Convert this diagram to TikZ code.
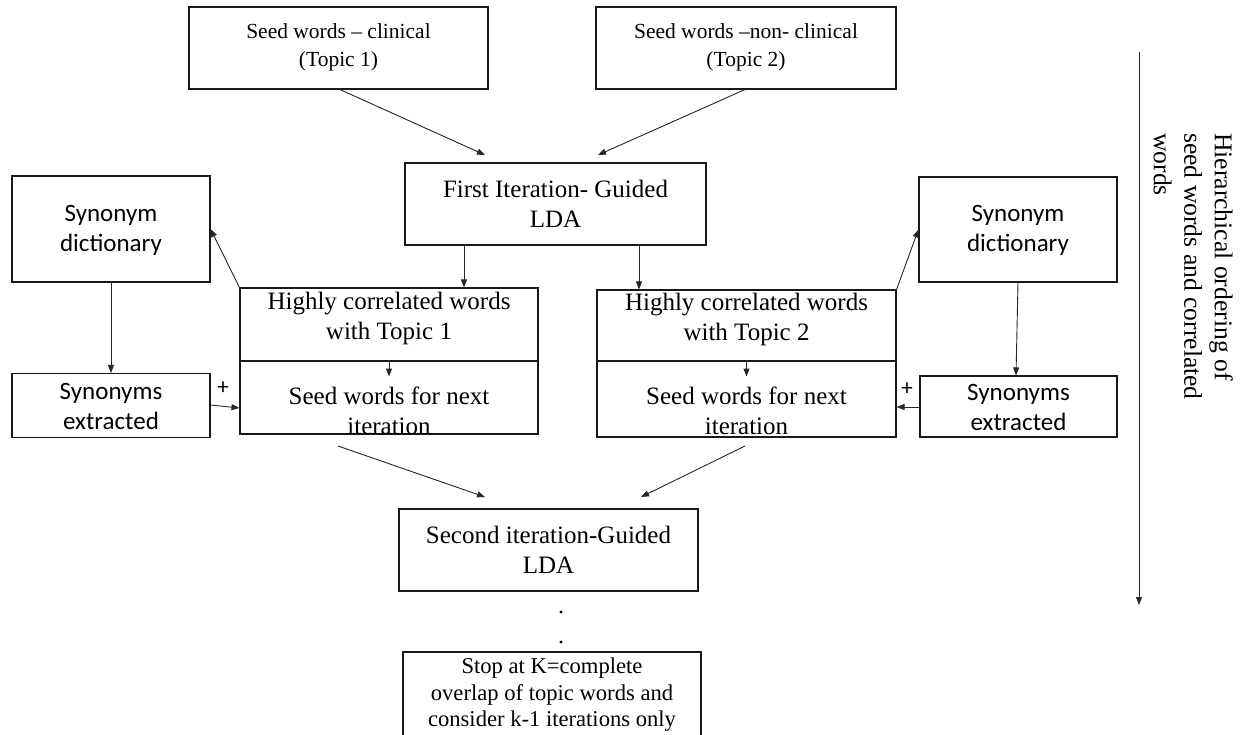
\documentclass[tikz,border=0pt]{standalone}
\usepackage{fontspec}
\setmainfont{Liberation Serif}
\newfontfamily\carl{Carlito}
\usetikzlibrary{arrows.meta,calc}
\begin{document}
\begin{tikzpicture}[x=1pt,y=-1pt,
  box/.style={draw=black!90, line width=1.1pt, inner sep=0pt},
  arr/.style={-{Triangle[length=8pt,width=6pt]}, line width=0.9pt, draw=black!85},
  serifA/.style={font=\fontsize{21.5}{28}\selectfont, align=center, inner sep=0pt},
  serifB/.style={font=\fontsize{25}{30}\selectfont, align=center, inner sep=0pt},
  serifC/.style={font=\fontsize{22.6}{26.5}\selectfont, align=center, inner sep=0pt},
  sansB/.style={font=\carl\fontsize{25}{30}\selectfont, align=center, inner sep=0pt},
  plus/.style={font=\carl\fontsize{23}{24}\selectfont, inner sep=0pt}]
\useasboundingbox (0,0) rectangle (1242,735);
\clip (0,0) rectangle (1242,735);

% boxes
\node[box, minimum width=299pt, minimum height=82pt] (seed1) at (338.5,48) {};
\node[box, minimum width=300pt, minimum height=82pt] (seed2) at (746,48) {};
\node[box, minimum width=301pt, minimum height=82pt] (fi) at (555.5,204) {};
\node[box, minimum width=198pt, minimum height=106pt] (sdL) at (111,229) {};
\node[box, minimum width=198pt, minimum height=105pt] (sdR) at (1018,229.5) {};
\node[box, minimum width=298pt, minimum height=73pt] (t1a) at (389,324.5) {};
\node[box, minimum width=298pt, minimum height=73pt] (t1b) at (389,397.5) {};
\node[box, minimum width=299pt, minimum height=71pt] (t2a) at (746.5,325.5) {};
\node[box, minimum width=299pt, minimum height=76pt] (t2b) at (746.5,399) {};
\node[box, minimum width=198pt, minimum height=64pt] (seL) at (111,405.5) {};
\node[box, minimum width=197pt, minimum height=61pt] (seR) at (1018.5,406.5) {};
\node[box, minimum width=299pt, minimum height=82pt] (si) at (548.5,550) {};
\node[box, minimum width=298pt, minimum height=110pt] (stop) at (552,707) {};

% texts
\node[serifA] (seed1t) at (338.5,47.5) {Seed words -- clinical\\(Topic 1)};
\node[serifA] (seed2t) at (746,47.5) {Seed words --non- clinical\\(Topic 2)};
\node[serifB] (fit) at (555.5,204) {First Iteration- Guided\\LDA};
\node[sansB] (sdLt) at (111,230) {Synonym\\dictionary};
\node[sansB] (sdRt) at (1018,230) {Synonym\\dictionary};
\node[serifB] (t1at) at (389,318) {Highly correlated words\\with Topic 1};
\node[serifB] (t1bt) at (389,411) {Seed words for next\\iteration};
\node[serifB] (t2at) at (746.5,319) {Highly correlated words\\with Topic 2};
\node[serifB] (t2bt) at (746.5,411) {Seed words for next\\iteration};
\node[sansB] (seLt) at (111,406) {Synonyms\\extracted};
\node[sansB] (seRt) at (1018.5,407) {Synonyms\\extracted};
\node[serifB] (sit) at (548.5,550) {Second iteration-Guided\\LDA};
\node[serifC] (stopt) at (552,695) {Stop at K=complete\\overlap of topic words and\\consider k-1 iterations only};
\node[plus] (p1) at (223,388) {+};
\node[plus] (p2) at (907,389) {+};
\fill (561,612) circle (1.7pt) coordinate (dot1);
\fill (561,642) circle (1.7pt) coordinate (dot2);

% side annotation
\node[rotate=-90, anchor=north west, align=left, font=\fontsize{25.6}{30.5}\selectfont, inner sep=0pt] (hier) at (1233,133)
  {Hierarchical ordering of\\seed words and correlated\\words};
\coordinate (vtop) at (1139,52);
\coordinate (vbot) at (1139,605);
\draw[arr] (vtop) -- (vbot);

% free arrow ends
\coordinate (fiL) at (485,155);
\coordinate (fiR) at (598,155);
\coordinate (siL) at (485,497);
\coordinate (siR) at (641,497);
\coordinate (t1s) at (338,446);
\coordinate (t2s) at (745,446);

% connectors
\draw[arr] (seed1.south -| 340,0) -- (fiL);
\draw[arr] (seed2.south -| 745,0) -- (fiR);
\draw[arr] (fi.south -| 464,0) -- (t1a.north -| 464,0);
\draw[arr] (fi.south -| 639,0) -- (t2a.north -| 639,0);
\draw[arr] (t1a.north west) -- (sdL.east);
\draw[arr] (t2a.north east) -- (sdR.west);
\draw[arr] (sdL.south) -- (seL.north);
\draw[arr] (sdR.south) -- (seR.north -| 1016,0);
\draw[arr] (seL.east |- 0,405) -- (t1b.west |- 0,408);
\draw[arr] (seR.west |- 0,407) -- (t2b.east |- 0,407);
\draw[arr] (t1a.south) -- ++(0,15);
\draw[arr] (t2a.south) -- ++(0,15);
\draw[arr] (t1s) -- (siL);
\draw[arr] (t2s) -- (siR);
\end{tikzpicture}
\end{document}
